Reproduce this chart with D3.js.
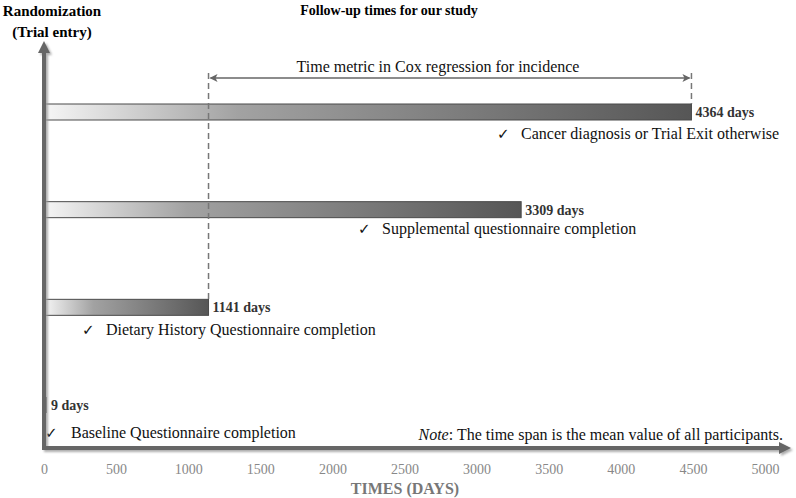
<!DOCTYPE html>
<html>
<head>
<meta charset="utf-8">
<script src="https://cdn.jsdelivr.net/npm/d3@7"></script>
<style>
  body { margin: 0; background: #fff; }
  svg { display: block; font-family: "Liberation Serif", "Times New Roman", serif; }
</style>
</head>
<body>
<svg width="796" height="498"></svg>
<script>
// data
const stages = ["Baseline Questionnaire completion", "Dietary History Questionnaire completion",
  "Supplemental questionnaire completion", "Cancer diagnosis or Trial Exit otherwise"];
const meanDays = [9, 1141, 3309, 4364];
// the top bar is drawn a bit past its value in the original, so keep where the bars end
const barEnds = [9, 1141, 3309, 4490];
const xTicks = [0, 500, 1000, 1500, 2000, 2500, 3000, 3500, 4000, 4500, 5000];
const coxSpan = [1141, 4490];

// layout bits
const noteLeft = [45, 82, 358, 497];
const noteDy = [33, 28, 24, 27];

const svg = d3.select("svg");
const axisY = 448;

const x = d3.scaleLinear().domain([0, 5000]).range([44, 765]);
const y = d3.scalePoint().domain(stages).range([405, 112]);

const defs = svg.append("defs");
const grad = defs.append("linearGradient").attr("id", "barGrad");
grad.append("stop").attr("offset", "0%").attr("stop-color", "#f6f6f6");
grad.append("stop").attr("offset", "30%").attr("stop-color", "#a2a2a2");
grad.append("stop").attr("offset", "100%").attr("stop-color", "#565656");

const shadow = defs.append("filter").attr("id", "shadow")
  .attr("x", "-10%").attr("y", "-10%").attr("width", "120%").attr("height", "120%");
shadow.append("feDropShadow")
  .attr("dx", 2).attr("dy", 2).attr("stdDeviation", 1.2)
  .attr("flood-color", "#999").attr("flood-opacity", 0.8);

// title
svg.append("text")
  .attr("x", 389).attr("y", 15)
  .attr("text-anchor", "middle")
  .style("font-weight", "bold").style("font-size", "14px")
  .text("Follow-up times for our study");

svg.append("text")
  .attr("x", 52).attr("y", 16)
  .attr("text-anchor", "middle")
  .style("font-weight", "bold").style("font-size", "15px")
  .text("Randomization");
svg.append("text")
  .attr("x", 52).attr("y", 37)
  .attr("text-anchor", "middle")
  .style("font-weight", "bold").style("font-size", "15px")
  .text("(Trial entry)");

// bars
const rows = stages.map((s, i) => ({stage: s, days: meanDays[i], end: barEnds[i], i}));

svg.selectAll(".bar")
  .data(rows.filter(d => d.i > 0))
  .enter().append("rect")
  .attr("class", "bar")
  .attr("x", x(0))
  .attr("y", d => y(d.stage) - 8)
  .attr("width", d => x(d.end) - x(0))
  .attr("height", 16)
  .attr("fill", "url(#barGrad)")
  .attr("stroke", "#4a4a4a")
  .attr("stroke-width", 1);

// the 9 days one is just a sliver
svg.append("rect")
  .attr("x", x(0))
  .attr("y", y(stages[0]) - 8)
  .attr("width", Math.max(3, x(barEnds[0]) - x(0)))
  .attr("height", 16)
  .attr("fill", "#555");

svg.selectAll(".days")
  .data(rows)
  .enter().append("text")
  .attr("class", "days")
  .attr("x", d => Math.max(x(d.end), x(0) + 3) + 4)
  .attr("y", d => y(d.stage) + 5)
  .style("font-weight", "bold").style("font-size", "14px")
  .attr("fill", "#333")
  .text(d => `${d.days} days`);

const notes = svg.selectAll(".note")
  .data(rows)
  .enter().append("g")
  .attr("class", "note")
  .attr("transform", d => `translate(${noteLeft[d.i]},${y(d.stage) + noteDy[d.i]})`);
notes.append("text")
  .style("font-family", "DejaVu Sans")
  .style("font-size", "15px")
  .attr("fill", "#111")
  .text("\u2713");
notes.append("text")
  .attr("x", d => d.i === 0 ? 26 : 24)
  .style("font-size", "16px")
  .attr("fill", "#111")
  .text(d => d.stage);

// cox regression window
const arrowY = 78;
const dashTop = 73;
svg.append("line")
  .attr("x1", x(coxSpan[0])).attr("x2", x(coxSpan[0]))
  .attr("y1", dashTop).attr("y2", y(stages[1]) - 8)
  .attr("stroke", "#777").attr("stroke-width", 1.5)
  .attr("stroke-dasharray", "6,4");
svg.append("line")
  .attr("x1", x(coxSpan[1])).attr("x2", x(coxSpan[1]))
  .attr("y1", dashTop).attr("y2", y(stages[3]) - 8)
  .attr("stroke", "#777").attr("stroke-width", 1.5)
  .attr("stroke-dasharray", "6,4");

svg.append("line")
  .attr("x1", x(coxSpan[0]) + 2).attr("x2", x(coxSpan[1]) - 2)
  .attr("y1", arrowY).attr("y2", arrowY)
  .attr("stroke", "#666").attr("stroke-width", 1.5);
svg.append("path")
  .attr("d", `M${x(coxSpan[0]) + 1},${arrowY} l8,-4 l-2,4 l2,4 Z`)
  .attr("fill", "#666");
svg.append("path")
  .attr("d", `M${x(coxSpan[1]) - 1},${arrowY} l-8,-4 l2,4 l-2,4 Z`)
  .attr("fill", "#666");

svg.append("text")
  .attr("x", (x(coxSpan[0]) + x(coxSpan[1])) / 2 - 12)
  .attr("y", 72)
  .attr("text-anchor", "middle")
  .style("font-size", "16px")
  .attr("fill", "#111")
  .text("Time metric in Cox regression for incidence");

// axes with arrow heads
const axes = svg.append("g").attr("filter", "url(#shadow)");
axes.append("line")
  .attr("x1", x(0)).attr("x2", x(0))
  .attr("y1", axisY + 2).attr("y2", 50)
  .attr("stroke", "#666").attr("stroke-width", 4);
axes.append("path")
  .attr("d", `M${x(0)},41 L${x(0) - 6},53 L${x(0) + 6},53 Z`)
  .attr("fill", "#666");
axes.append("line")
  .attr("x1", x(0) - 2).attr("x2", 782)
  .attr("y1", axisY).attr("y2", axisY)
  .attr("stroke", "#666").attr("stroke-width", 4);
axes.append("path")
  .attr("d", `M791,${axisY} L779,${axisY - 6} L779,${axisY + 6} Z`)
  .attr("fill", "#666");

const xAxis = svg.append("g")
  .attr("transform", `translate(0,${axisY})`)
  .call(d3.axisBottom(x).tickValues(xTicks).tickSize(0).tickPadding(16).tickFormat(d3.format("d")));
xAxis.select(".domain").remove();
xAxis.selectAll("text")
  .style("font-family", "Liberation Serif")
  .style("font-size", "14px")
  .attr("fill", "#888");

svg.append("text")
  .attr("x", 405).attr("y", 494)
  .attr("text-anchor", "middle")
  .style("font-weight", "bold").style("font-size", "16px")
  .attr("fill", "#777")
  .text("TIMES (DAYS)");

const note = svg.append("text")
  .attr("x", 783).attr("y", 440)
  .attr("text-anchor", "end")
  .style("font-size", "16px")
  .attr("fill", "#111");
note.append("tspan").style("font-style", "italic").text("Note");
note.append("tspan").text(": The time span is the mean value of all participants.");
</script>
</body>
</html>
